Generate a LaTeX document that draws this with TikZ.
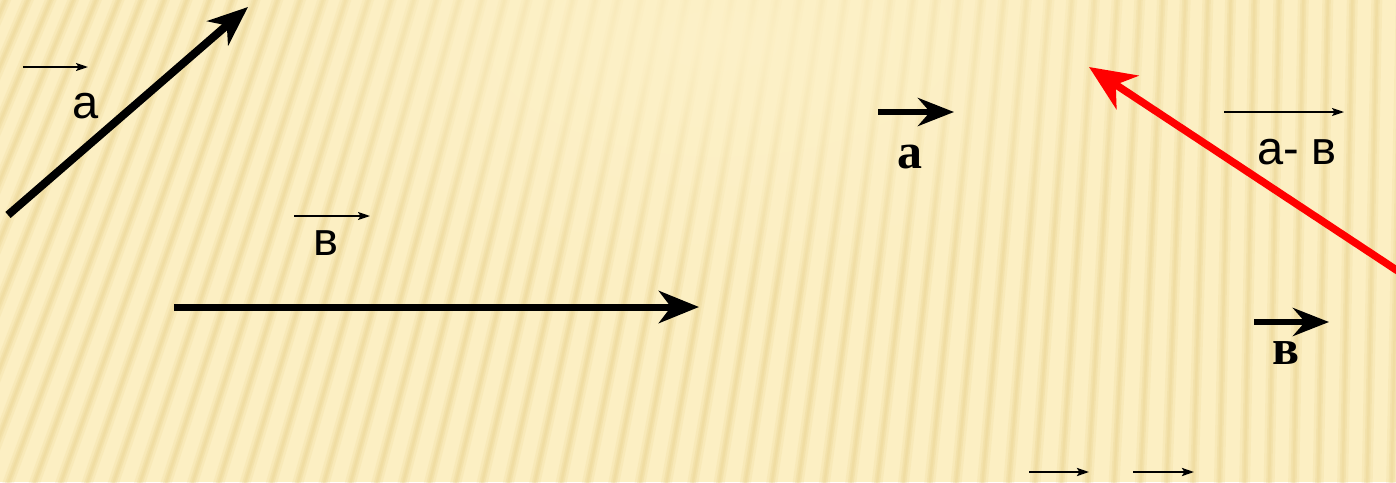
\documentclass[tikz,border=0pt]{standalone}
\usepackage{fontspec}
\usetikzlibrary{arrows.meta,fadings}
\newfontfamily\lsans{Liberation Sans}
\newfontfamily\lserif{Liberation Serif}
\definecolor{bgcream}{HTML}{FCEFC3}
\definecolor{bglight}{HTML}{FDF1C8}
\definecolor{stripe}{HTML}{E8D18A}
\definecolor{vred}{HTML}{FF0000}
\tikzfading[name=softspot, inner color=transparent!0, outer color=transparent!100]
\tikzset{
  thickvec/.style={line width=8pt, -{Stealth[length=40pt,width=32pt,inset=12pt]}},
  redvec/.style={draw=vred, line width=7.5pt, -{Stealth[length=46pt,width=40pt,inset=14pt]}},
  boldvec/.style={line width=6pt, -{Stealth[length=36pt,width=28pt,inset=12pt]}},
  thinvec/.style={line width=1.6pt, -{Stealth[length=12pt,width=8pt,inset=2.5pt]}},
  sanslbl/.style={font=\lsans\fontsize{47}{47}\selectfont, inner sep=0pt},
  seriflbl/.style={font=\lserif\bfseries\fontsize{50}{50}\selectfont, inner sep=0pt},
  stripeln/.style={draw=stripe, line cap=round}
}
\begin{document}
\begin{tikzpicture}[x=1pt,y=-1pt]
\fill[bgcream] (0,0) rectangle (1396,482);
\useasboundingbox (0,0) rectangle (1396,482);
% background stripes
\begin{scope}
\clip (0,0) rectangle (1396,482);
\foreach \i in {-10,...,60}{
  \pgfmathsetmacro{\xm}{\i*24.5}
  \pgfmathsetmacro{\s}{max(0.02,0.40*(1-\xm/1300))}
  \pgfmathsetmacro{\xt}{\xm+\s*260}
  \pgfmathsetmacro{\xb}{\xm-\s*260}
  \draw[stripeln, line width=11pt, opacity=0.18] (\xb,500) -- (\xt,-20);
  \draw[stripeln, line width=6pt, opacity=0.25] (\xb,500) -- (\xt,-20);
  \draw[stripeln, line width=2.5pt, opacity=0.25] (\xb,500) -- (\xt,-20);
}
\fill[bglight, path fading=softspot, fit fading=true, opacity=0.9] (720,40) ellipse [x radius=520, y radius=260];
\end{scope}
% left group
\coordinate (a0) at (8,215);
\coordinate (a1) at (248,7);
\draw[thickvec] (a0) -- (a1);
\coordinate (sa0) at (23,67);
\coordinate (sa1) at (88,67);
\draw[thinvec] (sa0) -- (sa1);
\node[sanslbl] (la) at (86,106) {а};

\coordinate (b0) at (174,307);
\coordinate (b1) at (699,307);
\draw[thickvec, line width=7pt] (b0) -- (b1);
\coordinate (sb0) at (294,216);
\coordinate (sb1) at (370,216);
\draw[thinvec] (sb0) -- (sb1);
\node[sanslbl] (lb) at (326,243) {в};

% right group
\coordinate (ra0) at (878,112);
\coordinate (ra1) at (954,112);
\draw[boldvec] (ra0) -- (ra1);
\node[seriflbl] (lra) at (910,157) {а};

\coordinate (d0) at (1410,279);
\coordinate (d1) at (1089,67);
\draw[redvec] (d0) -- (d1);
\coordinate (sd0) at (1224,112);
\coordinate (sd1) at (1344,112);
\draw[thinvec] (sd0) -- (sd1);
\node[sanslbl] (ld) at (1297,152) {а- в};

\coordinate (rb0) at (1254,322);
\coordinate (rb1) at (1329,322);
\draw[boldvec] (rb0) -- (rb1);
\node[seriflbl] (lrb) at (1286,353) {в};

\coordinate (e0) at (1029,472);
\coordinate (e1) at (1089,472);
\draw[thinvec, line width=2.4pt] (e0) -- (e1);
\coordinate (f0) at (1133,472);
\coordinate (f1) at (1194,472);
\draw[thinvec, line width=2.4pt] (f0) -- (f1);
\end{tikzpicture}
\end{document}
